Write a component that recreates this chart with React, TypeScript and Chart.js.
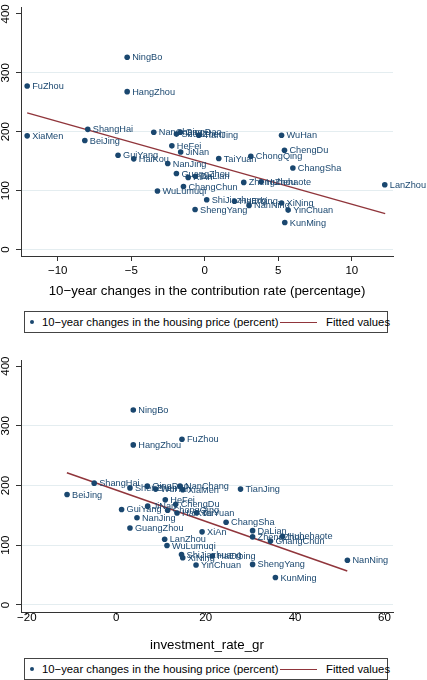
import React, { useEffect, useRef } from 'react';
import { Chart, registerables } from 'chart.js';
Chart.register(...registerables);

const FONT = "'Liberation Sans', Arial, Helvetica, sans-serif";
const NAVY = '#1a476f';
const MAROON = '#90353b';

const cities = [
  'BeiJing', 'TianJing', 'ShiJiazhuang', 'TaiYuan', 'Huhehaote', 'ShengYang', 'DaLian',
  'ChangChun', 'HaErbing', 'ShangHai', 'NanJing', 'HangZhou', 'NingBo', 'HeFei',
  'FuZhou', 'XiaMen', 'NanChang', 'JiNan', 'QingDao', 'ZhengZhou', 'WuHan',
  'ChangSha', 'GuangZhou', 'ShenZhen', 'NanNing', 'HaiKou', 'ChongQing', 'ChengDu',
  'GuiYang', 'KunMing', 'XiAn', 'LanZhou', 'XiNing', 'YinChuan', 'WuLumuqi',
];
const housingPrice = [
  185, 194, 84.5, 154.5, 115, 68, 124.5,
  107, 82, 204, 146, 268, 326.5, 176,
  277.5, 193, 199, 165.5, 199, 114, 194,
  138.5, 129, 196, 75, 154, 158.5, 168.5,
  160, 46, 122.5, 110, 79, 67, 99.5,
];
const contributionChange = [
  -8.16, -0.41, 0.13, 0.95, 3.83, -0.66, -0.64,
  -1.45, 2.02, -7.96, -2.52, -5.28, -5.28, -2.24,
  -12.08, -12.08, -3.47, -1.64, -1.66, 2.65, 5.22,
  5.99, -1.93, -1.93, 3.01, -4.83, 3.13, 5.42,
  -5.9, 5.44, -1.13, 12.24, 5.22, 5.67, -3.22,
];
const investmentRate = [
  -11.0, 27.8, 14.6, 18.0, 37.2, 30.5, 30.5,
  34.5, 21.5, -4.93, 4.64, 3.81, 3.81, 10.97,
  14.7, 14.87, 14.27, 7.03, 6.95, 30.5, 8.82,
  24.57, 3.07, 3.07, 51.7, 13.6, 11.5, 13.3,
  1.2, 35.6, 19.2, 10.83, 14.87, 17.85, 11.35,
];
const fitTopX = [-12.08, 12.27];
const fitTopY = [232, 61];
const fitBottomX = [-11.04, 51.67];
const fitBottomY = [221.4, 56.9];
const yTicks = [0, 100, 200, 300, 400];
const xTicksTop = [-10, -5, 0, 5, 10];
const xTicksBottom = [-20, 0, 20, 40, 60];
const xTitleTop = '10\u2212year changes in the contribution rate (percentage)';
const xTitleBottom = 'investment_rate_gr';
const legendScatter = '10\u2212year changes in the housing price (percent)';
const legendFit = 'Fitted values';

const pointLabelsPlugin = {
  id: 'pointLabels',
  afterDatasetsDraw(chart: any) {
    const ctx = chart.ctx;
    const meta = chart.getDatasetMeta(0);
    const labels: string[] = chart.data.datasets[0].pointLabels || [];
    ctx.save();
    ctx.font = `9.2px ${FONT}`;
    ctx.fillStyle = NAVY;
    ctx.textBaseline = 'middle';
    ctx.textAlign = 'left';
    meta.data.forEach((el: any, i: number) => {
      ctx.fillText(labels[i], el.x + 5, el.y + 0.5);
    });
    ctx.restore();
  },
};

type PanelProps = {
  xValues: number[];
  fitX: number[];
  fitY: number[];
  xTicks: number[];
  xMin: number;
  xMax: number;
  yMin: number;
  yMax: number;
  title: string;
  height: number;
  padTop: number;
  xAxisHeight: number;
  tickLength: number;
  tickPadding: number;
  titlePadBottom: number;
};

function Panel(p: PanelProps) {
  const ref = useRef<HTMLCanvasElement | null>(null);
  useEffect(() => {
    if (!ref.current) return;
    const chart = new Chart(ref.current, {
      type: 'scatter',
      data: {
        datasets: [
          {
            label: legendScatter,
            data: p.xValues.map((x, i) => ({ x, y: housingPrice[i] })),
            pointLabels: cities,
            pointRadius: 2.8,
            pointBackgroundColor: NAVY,
            pointBorderWidth: 0,
            showLine: false,
            order: 1,
          } as any,
          {
            label: legendFit,
            data: p.fitX.map((x, i) => ({ x, y: p.fitY[i] })),
            showLine: true,
            borderColor: MAROON,
            borderWidth: 1.4,
            pointRadius: 0,
            order: 2,
          },
        ],
      },
      options: {
        responsive: false,
        animation: false,
        events: [],
        layout: { padding: { left: 0, right: 34, top: p.padTop, bottom: 0 } },
        plugins: { legend: { display: false }, tooltip: { enabled: false } },
        scales: {
          x: {
            type: 'linear',
            min: p.xMin,
            max: p.xMax,
            afterBuildTicks: (s: any) => {
              s.ticks = p.xTicks.map((v) => ({ value: v }));
            },
            afterFit: (s: any) => {
              s.height = p.xAxisHeight;
            },
            border: { display: true, color: '#333', width: 1 },
            grid: {
              drawOnChartArea: false,
              drawTicks: true,
              tickLength: p.tickLength,
              tickColor: '#333',
            },
            ticks: {
              autoSkip: false,
              maxRotation: 0,
              padding: p.tickPadding,
              color: '#000',
              font: { family: FONT, size: 11.5 },
              callback: (v: any) => String(v).replace('-', '\u2212'),
            },
            title: {
              display: true,
              text: p.title,
              color: '#000',
              font: { family: FONT, size: 13.3 },
              padding: { top: 0, bottom: p.titlePadBottom },
            },
          },
          y: {
            type: 'linear',
            min: p.yMin,
            max: p.yMax,
            afterBuildTicks: (s: any) => {
              s.ticks = yTicks.map((v) => ({ value: v }));
            },
            afterFit: (s: any) => {
              s.width = 21;
            },
            border: { display: true, color: '#333', width: 1 },
            grid: {
              color: (c: any) => (c.tick && c.tick.value === 400 ? 'rgba(0,0,0,0)' : '#e4edf0'),
              lineWidth: 1,
              drawTicks: true,
              tickLength: 5,
              tickColor: '#333',
            },
            ticks: {
              autoSkip: false,
              minRotation: 90,
              maxRotation: 90,
              crossAlign: 'center',
              padding: 0.5,
              color: '#000',
              font: { family: FONT, size: 11.5 },
              callback: (v: any) => String(v),
            },
          },
        },
      } as any,
      plugins: [pointLabelsPlugin],
    });
    return () => chart.destroy();
  }, []);
  return <canvas ref={ref} width={427} height={p.height} style={{ display: 'block' }} />;
}

function Legend({ top }: { top: number }) {
  const text: React.CSSProperties = {
    position: 'absolute',
    top: 0,
    height: 20,
    lineHeight: '20px',
    fontFamily: FONT,
    fontSize: 11.3,
    color: '#000',
    whiteSpace: 'nowrap',
  };
  return (
    <div
      style={{
        position: 'absolute',
        left: 24,
        top,
        width: 364,
        height: 22,
        border: '1px solid #444',
        boxSizing: 'border-box',
        background: '#fff',
      }}
    >
      <div
        style={{
          position: 'absolute',
          left: 4.7,
          top: 7.7,
          width: 4.6,
          height: 4.6,
          borderRadius: '50%',
          background: NAVY,
        }}
      />
      <div style={{ ...text, left: 17 }}>{legendScatter}</div>
      <div
        style={{
          position: 'absolute',
          left: 255,
          top: 9.5,
          width: 37,
          height: 1.3,
          background: MAROON,
        }}
      />
      <div style={{ ...text, left: 301 }}>{legendFit}</div>
    </div>
  );
}

export default function App() {
  return (
    <div
      style={{
        position: 'fixed',
        left: 0,
        top: 0,
        width: 427,
        height: 680,
        background: '#fff',
        overflow: 'hidden',
      }}
    >
      <div style={{ position: 'absolute', left: 0, top: 0 }}>
        <Panel
          xValues={contributionChange}
          fitX={fitTopX}
          fitY={fitTopY}
          xTicks={xTicksTop}
          xMin={-12.5}
          xMax={12.8}
          yMin={-10.9}
          yMax={411}
          title={xTitleTop}
          height={306}
          padTop={4}
          xAxisHeight={50}
          tickLength={5}
          tickPadding={3}
          titlePadBottom={7}
        />
      </div>
      <Legend top={311} />
      <div style={{ position: 'absolute', left: 0, top: 340 }}>
        <Panel
          xValues={investmentRate}
          fitX={fitBottomX}
          fitY={fitBottomY}
          xTicks={xTicksBottom}
          xMin={-21.3}
          xMax={61.9}
          yMin={-12.9}
          yMax={409}
          title={xTitleBottom}
          height={316}
          padTop={20.7}
          xAxisHeight={43.3}
          tickLength={2}
          tickPadding={-4}
          titlePadBottom={3}
        />
      </div>
      <Legend top={658} />
    </div>
  );
}
